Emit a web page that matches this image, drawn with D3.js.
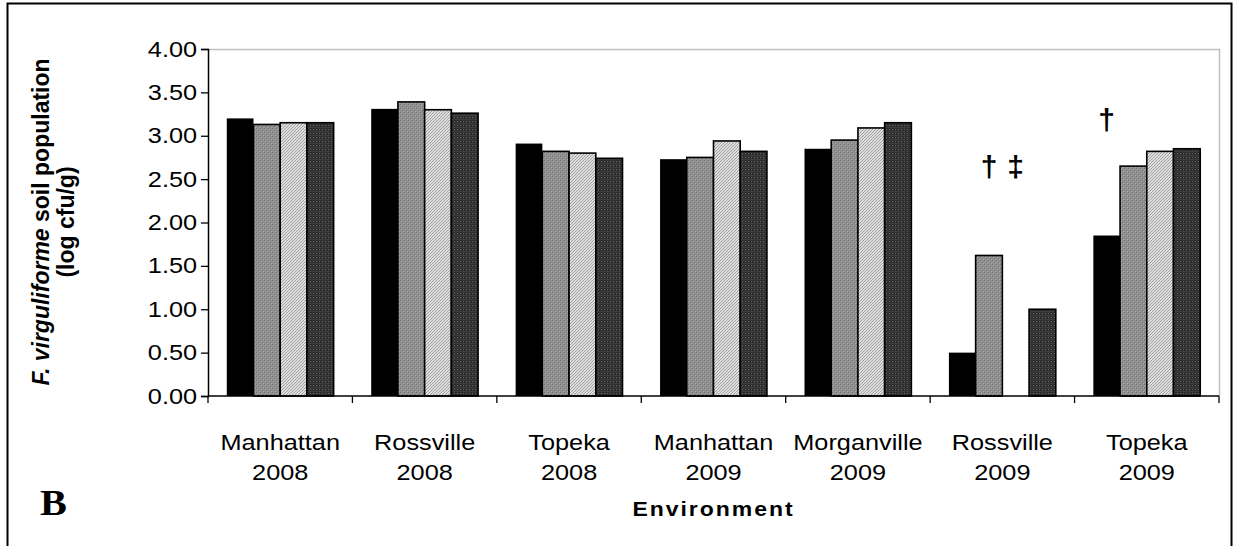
<!DOCTYPE html>
<html>
<head>
<meta charset="utf-8">
<script src="https://cdn.jsdelivr.net/npm/d3@7"></script>
<style>
  html, body { margin: 0; padding: 0; background: #fff; }
  svg { display: block; }
</style>
</head>
<body>
<svg id="chart" width="1235" height="546"></svg>
<script>
// ---- data ----
const categories = ["Manhattan 2008", "Rossville 2008", "Topeka 2008", "Manhattan 2009", "Morganville 2009", "Rossville 2009", "Topeka 2009"];
const categoryLines = [["Manhattan", "2008"], ["Rossville", "2008"], ["Topeka", "2008"], ["Manhattan", "2009"], ["Morganville", "2009"], ["Rossville", "2009"], ["Topeka", "2009"]];
const seriesNames = ["Series 1", "Series 2", "Series 3", "Series 4"];
const series1 = [3.20, 3.31, 2.91, 2.73, 2.85, 0.50, 1.85];
const series2 = [3.13, 3.39, 2.82, 2.75, 2.95, 1.62, 2.65];
const series3 = [3.15, 3.30, 2.80, 2.94, 3.09, null, 2.82];
const series4 = [3.15, 3.26, 2.74, 2.82, 3.15, 1.00, 2.85];
const yTicks = [0, 0.5, 1, 1.5, 2, 2.5, 3, 3.5, 4];
const annotations = [
  { category: "Rossville 2009", series: "Series 2", level: 2.53, symbol: "†" },
  { category: "Rossville 2009", series: "Series 3", level: 2.53, symbol: "‡" },
  { category: "Topeka 2009", series: "Series 1", level: 3.07, symbol: "†" }
];

const allSeries = [series1, series2, series3, series4];
const SANS = "Liberation Sans, Arial, sans-serif";
const SX = 1.15; // horizontal stretch of the original's lettering

const svg = d3.select("#chart");

// ---- patterns ----
const defs = svg.append("defs");
const p2 = defs.append("pattern").attr("id", "pat2").attr("patternUnits", "userSpaceOnUse").attr("width", 4).attr("height", 4);
p2.append("rect").attr("width", 4).attr("height", 4).attr("fill", "#909090");
p2.append("rect").attr("x", 0).attr("y", 0).attr("width", 1).attr("height", 1).attr("fill", "#707070");
p2.append("rect").attr("x", 2).attr("y", 2).attr("width", 1).attr("height", 1).attr("fill", "#707070");
p2.append("rect").attr("x", 1).attr("y", 1).attr("width", 1).attr("height", 1).attr("fill", "#ababab");
p2.append("rect").attr("x", 3).attr("y", 3).attr("width", 1).attr("height", 1).attr("fill", "#ababab");
const p3 = defs.append("pattern").attr("id", "pat3").attr("patternUnits", "userSpaceOnUse").attr("width", 3).attr("height", 3);
p3.append("rect").attr("width", 3).attr("height", 3).attr("fill", "#dedede");
p3.append("path").attr("d", "M0,3 L3,0 M-1,1 L1,-1 M2,4 L4,2").attr("stroke", "#9a9a9a").attr("stroke-width", 0.9);
const p4 = defs.append("pattern").attr("id", "pat4").attr("patternUnits", "userSpaceOnUse").attr("width", 3).attr("height", 4);
p4.append("rect").attr("width", 3).attr("height", 4).attr("fill", "#2e2e2e");
p4.append("rect").attr("x", 1).attr("y", 1).attr("width", 1).attr("height", 1).attr("fill", "#6a6a6a");
p4.append("rect").attr("x", 0).attr("y", 3).attr("width", 3).attr("height", 1).attr("fill", "#3e3e3e");
const fills = ["#000000", "url(#pat2)", "url(#pat3)", "url(#pat4)"];

// ---- outer frame ----
svg.append("rect").attr("x", 7.5).attr("y", 3.5).attr("width", 1224).attr("height", 560)
  .attr("fill", "none").attr("stroke", "#000").attr("stroke-width", 2);

// ---- scales ----
const plotLeft = 208, plotRight = 1219, plotTop = 49, plotBottom = 396;
const x0 = d3.scaleBand().domain(categories).range([plotLeft, plotRight]).paddingInner(0.26).paddingOuter(0.13);
const x1 = d3.scaleBand().domain(seriesNames).range([0, x0.bandwidth()]).padding(0);
const y = d3.scaleLinear().domain([0, 4]).range([plotBottom, plotTop]);

svg.append("path")
  .attr("d", `M${plotLeft},${plotTop + 0.5}H${plotRight + 0.5}V${plotBottom}`)
  .attr("fill", "none").attr("stroke", "#c0c0c0").attr("stroke-width", 1.5);

// ---- bars ----
const rows = [];
categories.forEach((c, i) => {
  allSeries.forEach((s, j) => {
    if (s[i] != null) rows.push({ c, s: seriesNames[j], j, v: s[i] });
  });
});
svg.append("g").selectAll("rect").data(rows).join("rect")
  .attr("x", d => x0(d.c) + x1(d.s))
  .attr("y", d => y(d.v))
  .attr("width", x1.bandwidth())
  .attr("height", d => y(0) - y(d.v))
  .attr("fill", d => fills[d.j])
  .attr("stroke", "#000")
  .attr("stroke-width", d => d.j === 0 ? 0 : 1.6);

// ---- y axis ----
const yAxis = svg.append("g").attr("transform", `translate(${plotLeft},0)`)
  .call(d3.axisLeft(y).tickValues(yTicks).tickFormat(d3.format(".2f")).tickSize(7).tickPadding(2.5));
yAxis.select(".domain").attr("stroke", "#000").attr("stroke-width", 1.5);
yAxis.selectAll(".tick line").attr("stroke", "#000").attr("stroke-width", 1.3);
yAxis.selectAll(".tick text").attr("font-size", 22).attr("fill", "#000")
  .attr("font-family", SANS).attr("transform", `scale(${SX},1)`);

// ---- x axis ----
const boundaries = d3.range(categories.length + 1).map(i => plotLeft + i * x0.step());
svg.append("line").attr("x1", plotLeft).attr("x2", plotRight).attr("y1", plotBottom).attr("y2", plotBottom)
  .attr("stroke", "#000").attr("stroke-width", 1.5);
svg.append("g").selectAll("line").data(boundaries).join("line")
  .attr("x1", d => d).attr("x2", d => d).attr("y1", plotBottom).attr("y2", plotBottom + 7)
  .attr("stroke", "#000").attr("stroke-width", 1.3);
const xl = svg.append("g").selectAll("text").data(categories).join("text")
  .attr("transform", d => `translate(${x0(d) + x0.bandwidth() / 2},450) scale(${SX},1)`)
  .attr("text-anchor", "middle")
  .attr("font-family", SANS)
  .attr("font-size", 22)
  .attr("fill", "#000");
xl.each(function(d, i) {
  const t = d3.select(this);
  categoryLines[i].forEach((ln, k) => {
    t.append("tspan").attr("x", 0).attr("dy", k === 0 ? 0 : 30).text(ln);
  });
});

// ---- axis titles ----
svg.append("text").attr("transform", `translate(${(plotLeft + plotRight) / 2},516) scale(${SX},1)`)
  .attr("text-anchor", "middle").attr("font-family", SANS)
  .attr("font-size", 20).attr("font-weight", "bold").attr("letter-spacing", 1.7).text("Environment");

const yt = svg.append("text").attr("transform", "translate(49,222) rotate(-90)")
  .attr("text-anchor", "middle").attr("font-family", SANS).attr("font-size", 23).attr("font-weight", "bold");
yt.append("tspan").attr("font-style", "italic").text("F. virguliforme");
yt.append("tspan").text(" soil population");
svg.append("text").attr("transform", "translate(74,222) rotate(-90)")
  .attr("text-anchor", "middle").attr("font-family", SANS).attr("font-size", 23).attr("font-weight", "bold").text("(log cfu/g)");

// ---- panel letter ----
svg.append("text").attr("transform", "translate(40,515) scale(1.12,1)")
  .attr("font-family", "Liberation Serif, Times New Roman, serif")
  .attr("font-size", 36).attr("font-weight", "bold").text("B");

// ---- significance symbols ----
svg.append("g").selectAll("text").data(annotations).join("text")
  .attr("transform", d => `translate(${x0(d.category) + x1(d.series) + x1.bandwidth() / 2},${y(d.level)})`)
  .attr("text-anchor", "middle")
  .attr("font-family", SANS)
  .attr("font-size", 30)
  .attr("font-weight", "bold")
  .attr("fill", "#000")
  .text(d => d.symbol);
</script>
</body>
</html>
